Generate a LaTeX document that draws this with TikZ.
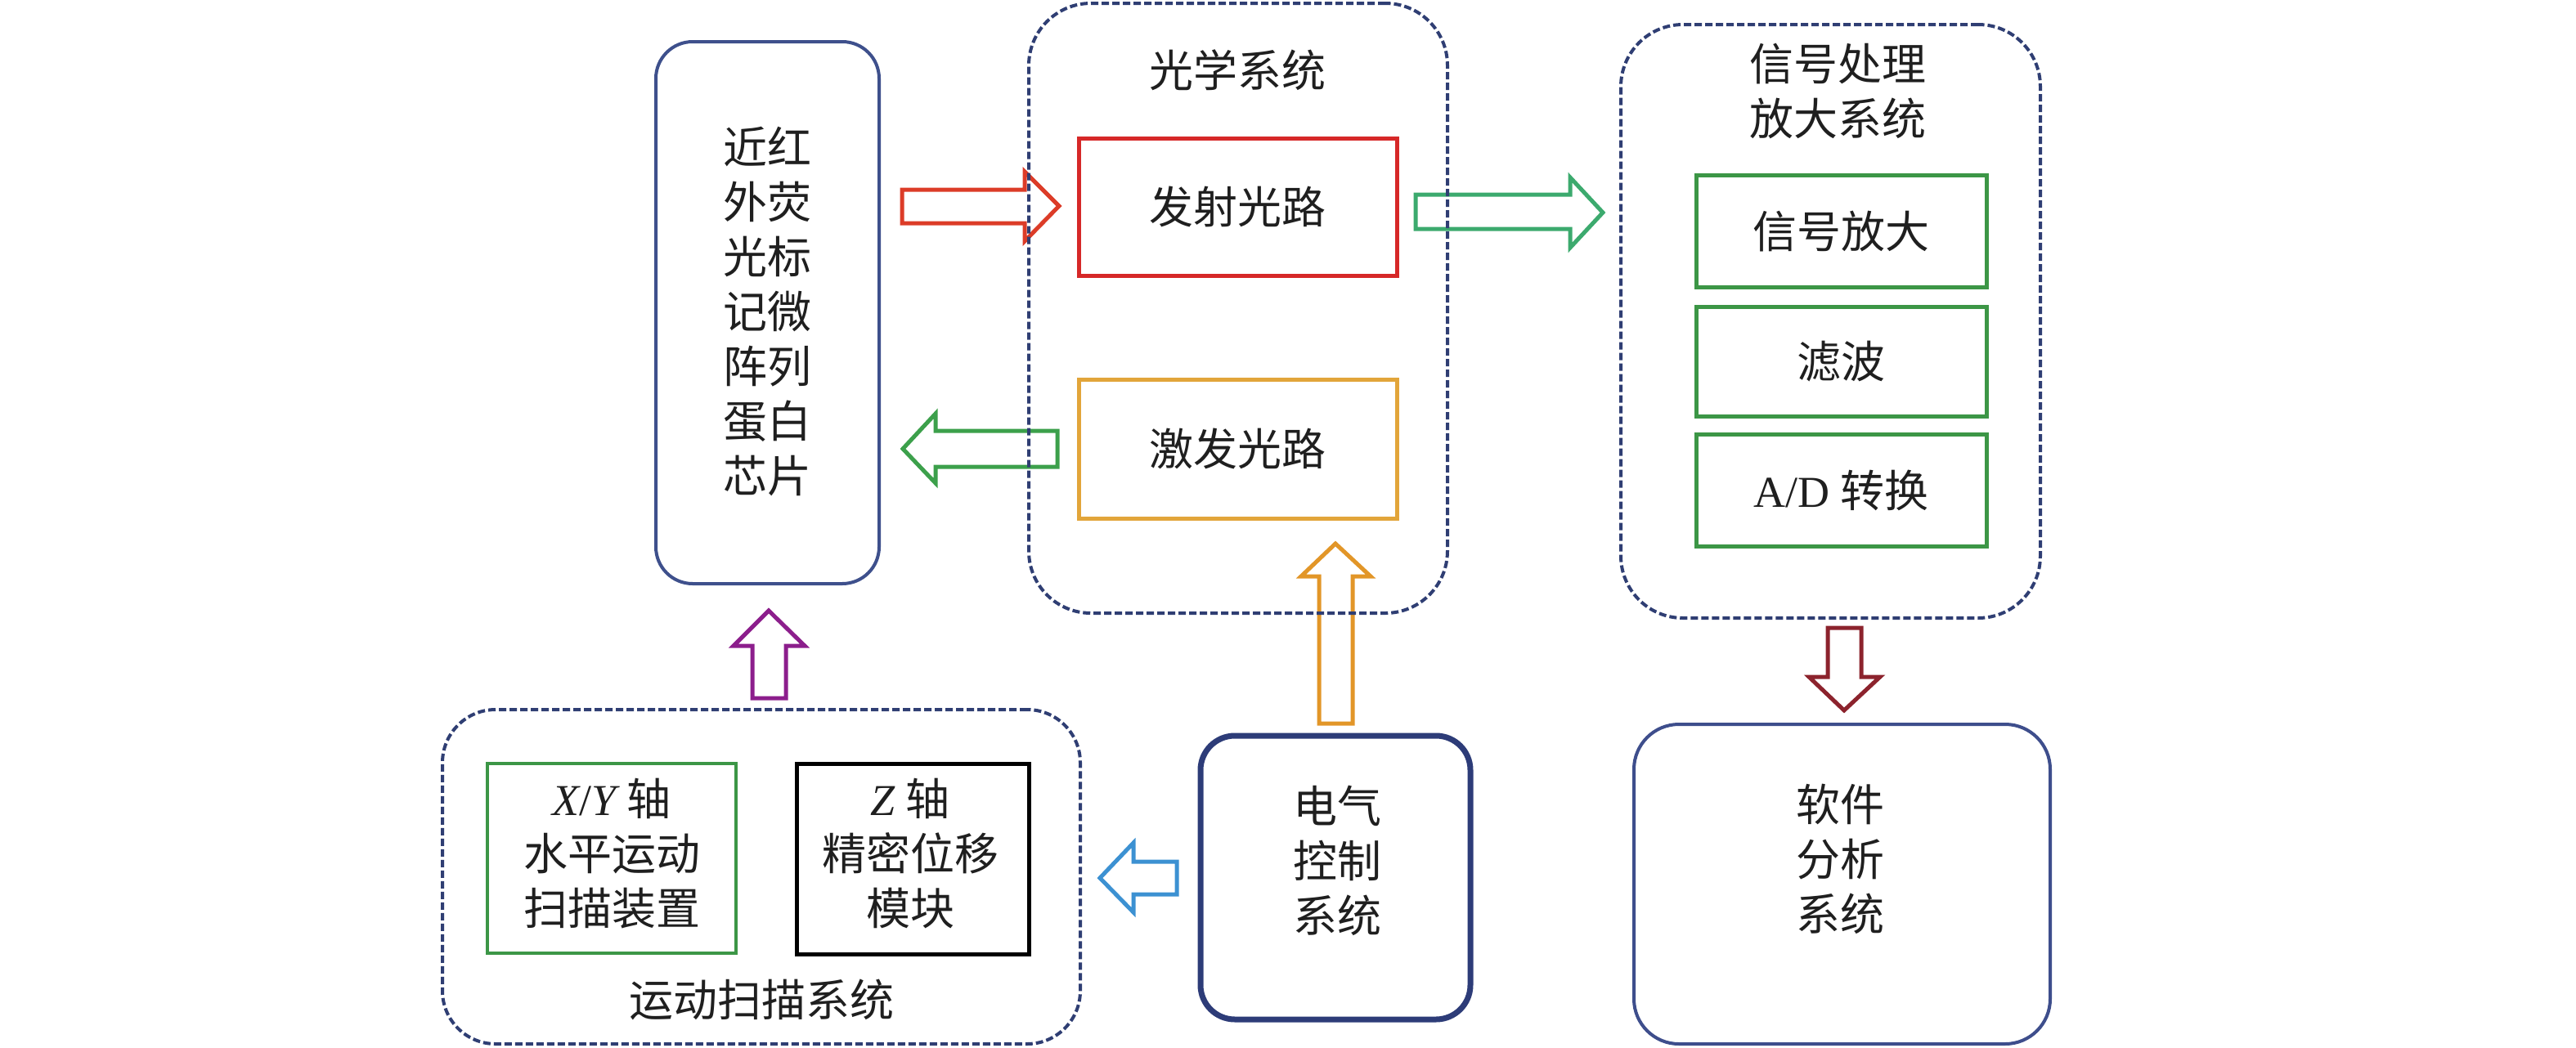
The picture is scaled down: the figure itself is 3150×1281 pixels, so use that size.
\documentclass[tikz,border=0pt]{standalone}
\usepackage{fontspec}
\setmainfont{Noto Sans CJK SC}
\newfontfamily\lat{Liberation Serif}
\definecolor{navy}{RGB}{47,62,115}
\definecolor{chipc}{RGB}{62,80,140}
\definecolor{elecc}{RGB}{45,60,120}
\definecolor{softc}{RGB}{62,78,140}
\definecolor{redbox}{RGB}{214,40,40}
\definecolor{redarr}{RGB}{220,60,40}
\definecolor{orbox}{RGB}{226,165,58}
\definecolor{orarr}{RGB}{226,150,40}
\definecolor{grbox}{RGB}{60,150,70}
\definecolor{grarrR}{RGB}{60,170,110}
\definecolor{grarrL}{RGB}{60,160,75}
\definecolor{dred}{RGB}{140,35,45}
\definecolor{purp}{RGB}{140,30,140}
\definecolor{bluea}{RGB}{60,145,210}
\tikzset{
  txt/.style={font=\fontsize{27pt}{33.5pt}\selectfont, align=center, inner sep=0pt, text=black!88},
  dbox/.style={draw=navy, line width=2pt, dash pattern=on 4.5pt off 2pt, rounded corners=38pt, inner sep=0pt},
  sbox/.style={line width=2.5pt, inner sep=0pt, sharp corners},
  barrow/.style={line width=2.5pt, line join=miter}
}
\begin{document}
\begin{tikzpicture}[x=0.5pt, y=-0.5pt]
\fill[white] (0,0) rectangle (3150,1281);
\useasboundingbox (0,0) rectangle (3150,1281);

% block arrows (unfilled)
\draw[barrow, redarr] (1103,232) -- (1253,232) -- (1253,210) -- (1295,252) -- (1253,295) -- (1253,273) -- (1103,273) -- cycle;
\draw[barrow, grarrR] (1731,238) -- (1920,238) -- (1920,217) -- (1960,260) -- (1920,303) -- (1920,280) -- (1731,280) -- cycle;
\draw[barrow, grarrL] (1293,527) -- (1144,527) -- (1144,506) -- (1104,549) -- (1144,591) -- (1144,571) -- (1293,571) -- cycle;
\draw[barrow, orarr] (1613,885) -- (1613,705) -- (1591,705) -- (1633,665) -- (1676,705) -- (1654,705) -- (1654,885) -- cycle;
\draw[barrow, purp] (920,854) -- (920,790) -- (897,790) -- (940,747) -- (984,790) -- (961,790) -- (961,854) -- cycle;
\draw[barrow, bluea] (1439,1054) -- (1386,1054) -- (1386,1031) -- (1345,1074) -- (1386,1116) -- (1386,1094) -- (1439,1094) -- cycle;
\draw[barrow, dred] (2235,768) -- (2276,768) -- (2276,828) -- (2299,828) -- (2255,869) -- (2212,828) -- (2235,828) -- cycle;

% chip
\node[draw=chipc, line width=2pt, rounded corners=22.5pt, minimum width=136.5pt, minimum height=331.5pt, inner sep=0pt] (chip) at (938.5,382.5) {};
\node[txt] (chiptxt) at (938,381) {近红\\外荧\\光标\\记微\\阵列\\蛋白\\芯片};

% optical system
\node[dbox, minimum width=256pt, minimum height=373pt] (optical) at (1514,377) {};
\node[txt] (opttitle) at (1513,86) {光学系统};
\node[sbox, draw=redbox, minimum width=194.5pt, minimum height=84pt] (emit) at (1513.5,253) {};
\node[txt] at (emit.center) {发射光路};
\node[sbox, draw=orbox, minimum width=194.5pt, minimum height=85pt] (excite) at (1513.5,549) {};
\node[txt] at (excite.center) {激发光路};

% signal system
\node[dbox, minimum width=256.5pt, minimum height=363pt] (signal) at (2238.5,393) {};
\node[txt] (sigtitle) at (2247,111.5) {信号处理\\放大系统};
\node[sbox, draw=grbox, minimum width=177.5pt, minimum height=68.5pt] (amp) at (2251.5,282.5) {};
\node[txt] at (amp.center) {信号放大};
\node[sbox, draw=grbox, minimum width=177.5pt, minimum height=67pt] (filter) at (2251.5,442) {};
\node[txt] at (filter.center) {滤波};
\node[sbox, draw=grbox, minimum width=177.5pt, minimum height=68.5pt] (adc) at (2251.5,599.5) {};
\node[txt] at (adc.center) {{\lat A/D} 转换};

% software
\node[draw=softc, line width=2pt, rounded corners=27.5pt, minimum width=254.5pt, minimum height=195.5pt, inner sep=0pt] (soft) at (2252.5,1081.5) {};
\node[txt] (softtxt) at (2250,1051) {软件\\分析\\系统};

% electrical control
\node[draw=elecc, line width=3.5pt, rounded corners=21pt, minimum width=165pt, minimum height=173.5pt, inner sep=0pt] (elec) at (1633,1073.5) {};
\node[txt] (electxt) at (1635,1053) {电气\\控制\\系统};

% motion scan system
\node[dbox, rounded corners=32.5pt, minimum width=390pt, minimum height=204.5pt] (motion) at (931,1072.5) {};
\node[txt] (motiontitle) at (931,1223) {运动扫描系统};
\node[draw=grbox, line width=2pt, inner sep=0pt, minimum width=152pt, minimum height=116pt] (xy) at (748,1050) {};
\node[txt] (xytxt) at (748,1044) {{\lat\itshape X}{\lat /}{\lat\itshape Y} 轴\\水平运动\\扫描装置};
\node[draw=black, line width=2.5pt, inner sep=0pt, minimum width=142pt, minimum height=116.5pt] (zaxis) at (1116,1050.5) {};
\node[txt] (ztxt) at (1113,1044) {{\lat\itshape Z} 轴\\精密位移\\模块};
\end{tikzpicture}
\end{document}
